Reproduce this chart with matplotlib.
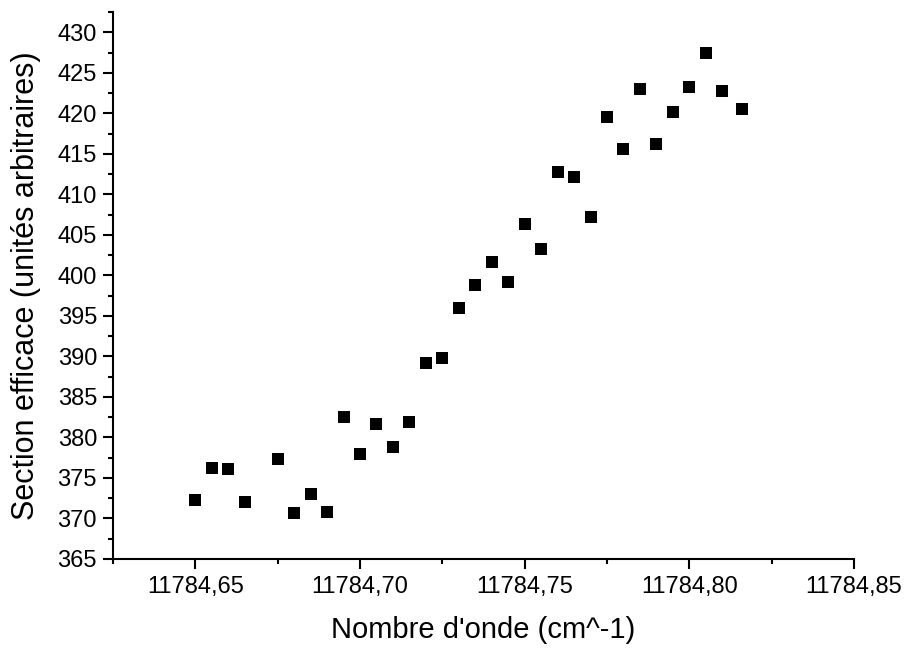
import matplotlib
matplotlib.use("Agg")
import matplotlib.pyplot as plt
from matplotlib.ticker import MultipleLocator, FuncFormatter

x_vals = [11784.650, 11784.655, 11784.660, 11784.665, 11784.675, 11784.680,
          11784.685, 11784.690, 11784.695, 11784.700, 11784.705, 11784.710,
          11784.715, 11784.720, 11784.725, 11784.730, 11784.735, 11784.740,
          11784.745, 11784.750, 11784.755, 11784.760, 11784.765, 11784.770,
          11784.775, 11784.780, 11784.785, 11784.790, 11784.795, 11784.800,
          11784.805, 11784.810, 11784.816]
y_vals = [372.3, 376.2, 376.1, 372.0, 377.3, 370.7,
          373.0, 370.8, 382.5, 378.0, 381.6, 378.8,
          381.9, 389.2, 389.8, 396.0, 398.8, 401.7,
          399.2, 406.3, 403.2, 412.7, 412.1, 407.2,
          419.6, 415.6, 423.0, 416.2, 420.2, 423.3,
          427.4, 422.7, 420.5]

xlabel = "Nombre d'onde (cm^-1)"
ylabel = "Section efficace (unités arbitraires)"

plt.rcParams['font.family'] = ['Liberation Sans', 'DejaVu Sans']

fig = plt.figure(figsize=(9.07, 6.49), dpi=100)
ax = fig.add_axes([0.1246, 0.1387, 0.817, 0.8428])
ax.plot(x_vals, y_vals, linestyle='none', marker='s', markersize=8.6,
        color='black', markeredgewidth=0)

ax.set_xlim(11784.625, 11784.85)
ax.set_ylim(365, 432.5)
ax.xaxis.set_major_locator(MultipleLocator(0.05))
ax.xaxis.set_minor_locator(MultipleLocator(0.025))
ax.yaxis.set_major_locator(MultipleLocator(5))
ax.yaxis.set_minor_locator(MultipleLocator(2.5))
ax.xaxis.set_major_formatter(FuncFormatter(lambda v, p: f"{v:.2f}".replace('.', ',')))
ax.yaxis.set_major_formatter(FuncFormatter(lambda v, p: f"{v:.0f}"))

for s in ['top', 'right']:
    ax.spines[s].set_visible(False)
for s in ['left', 'bottom']:
    ax.spines[s].set_linewidth(1.5)

ax.tick_params(which='major', direction='out', length=7.5, width=1.5, labelsize=17)
ax.tick_params(axis='x', which='major', pad=5)
ax.tick_params(axis='y', which='major', pad=4)
ax.tick_params(which='minor', direction='out', length=3.6, width=1.5)
ax.set_xlabel(xlabel, fontsize=21, labelpad=13)
ax.set_ylabel(ylabel, fontsize=22, labelpad=12)

fig.savefig("out.png", dpi=100)
